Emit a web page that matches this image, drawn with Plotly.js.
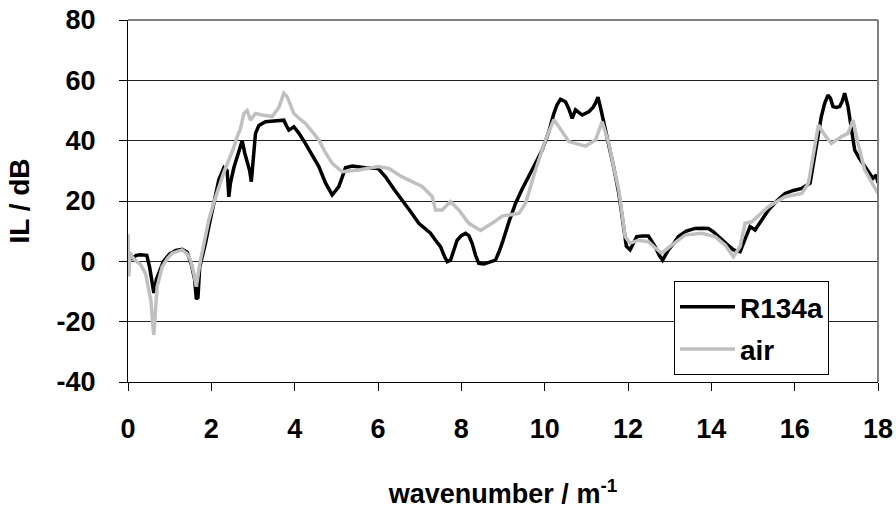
<!DOCTYPE html>
<html>
<head>
<meta charset="utf-8">
<script src="https://cdn.plot.ly/plotly-3.0.1.min.js"></script>
<style>html,body{margin:0;padding:0;background:#fff;}#chart{width:896px;height:509px;}</style>
</head>
<body>
<div id="chart"></div>
<script>
const r134aX = [0,0.05,0.1,0.2,0.3,0.45,0.52,0.58,0.62,0.68,0.74,0.85,1.0,1.15,1.3,1.42,1.52,1.6,1.64,1.68,1.72,1.78,1.86,1.94,2.06,2.18,2.3,2.38,2.42,2.46,2.54,2.64,2.74,2.8,2.86,2.92,2.96,3.0,3.06,3.14,3.3,3.5,3.74,3.8,3.86,3.98,4.1,4.26,4.42,4.58,4.74,4.9,5.06,5.22,5.38,5.7,6.0,6.18,6.38,6.58,6.78,6.98,7.14,7.26,7.38,7.5,7.6,7.66,7.74,7.82,7.9,8.0,8.1,8.18,8.26,8.34,8.42,8.54,8.7,8.82,8.9,8.98,9.14,9.3,9.46,9.62,9.78,9.94,10.1,10.22,10.3,10.38,10.5,10.58,10.66,10.74,10.9,11.06,11.16,11.22,11.28,11.34,11.38,11.46,11.54,11.66,11.78,11.9,11.96,12.05,12.21,12.35,12.49,12.65,12.75,12.83,12.97,13.1,13.21,13.4,13.61,13.8,13.93,14.05,14.17,14.35,14.53,14.69,14.8,14.93,15.05,15.2,15.37,15.57,15.77,15.97,16.17,16.37,16.46,16.56,16.64,16.72,16.8,16.86,16.92,17.0,17.08,17.14,17.2,17.28,17.36,17.44,17.56,17.68,17.88,17.96,18.0];
const r134aY = [0,2,1,2,2.2,2,-2,-8,-10.5,-6,-4,0,2.5,3.6,4,3,-1,-6,-12.5,-12,-2,1,6,11.5,20,27,31,30,21.4,26,31,36,40,36,33,30,26.4,33,42.4,45,46.3,46.5,46.8,45,43.5,44.6,42.5,39,35,31.4,26,22,24.8,31,31.6,31,30.8,28,24,20.4,16.5,12.6,10.5,9.3,7,4.9,1.5,-0.1,0.4,4,7,8.5,9.3,8.5,6,2,-0.7,-0.9,-0.3,0.4,3,6,13,19.2,24,28,32.5,36.9,43,49,52,53.7,52.9,50.5,47.4,50.2,48.5,49.6,51,52.4,54.4,51,48.5,44,39.1,31,22.5,10,5,3.8,8.2,8.4,8.4,4.9,2,0.4,3.8,6,8.2,10,10.9,11,10.9,9.8,8.2,6,3.8,3.2,7,11.5,10.4,13.5,17,20,22.5,23.5,24.2,25.9,33,42.4,48,52.4,55.1,54,51.3,51,51.3,53,55.7,51.3,44,36.9,34,31.4,27.5,28.6,26];

const airX = [0,0.02,0.05,0.1,0.2,0.3,0.42,0.5,0.55,0.6,0.62,0.66,0.7,0.82,0.95,1.06,1.3,1.42,1.5,1.58,1.64,1.7,1.74,1.84,1.94,2.06,2.18,2.3,2.42,2.52,2.62,2.7,2.78,2.86,2.94,3.0,3.06,3.22,3.46,3.62,3.74,3.82,3.9,3.98,4.1,4.26,4.42,4.58,4.74,4.9,5.14,5.54,6.0,6.26,6.58,6.8,7.06,7.3,7.38,7.54,7.74,7.94,8.18,8.46,8.74,8.98,9.38,9.54,9.66,9.78,10.02,10.22,10.34,10.58,10.98,11.22,11.38,11.54,11.66,11.78,11.93,12.05,12.25,12.49,12.65,12.81,13.05,13.37,13.77,14.09,14.33,14.53,14.69,14.81,14.97,15.37,15.77,16.17,16.33,16.49,16.57,16.72,16.88,17.12,17.28,17.4,17.52,17.68,17.92,18.0];
const airY = [9,-5,3,1.5,0,-1,-4,-10,-13,-22,-24.4,-16,-8.4,-1.8,1,2.7,3.8,2.5,0.4,-4,-8.4,-3,0.4,7,13.7,19.5,24.8,29.5,33.6,37,41.3,44,49,50,46.8,48,49,48.5,48,51,55.7,54.6,52,49,47.5,45.7,43,40.2,36,32.5,29.7,30.3,31.4,30.8,28,26.5,24.8,21.5,17,17,19.8,17,12.6,10.2,12.6,15,15.9,19.2,25,30.3,40.2,47,44.6,39.7,38.2,40.2,46.3,39.1,31,23.6,8.2,6,7,6.5,4.5,2.7,5.4,8.7,9.3,8.2,5.4,1.5,4.9,12.6,13.1,18.1,21.4,22.5,25.9,38,45.2,41.9,39.1,41.3,42.4,46.8,39.1,30.3,24.7,22.5];

const seriesNames = ["R134a", "air"];
const xTicks = [0,2,4,6,8,10,12,14,16,18];
const yTicks = [-40,-20,0,20,40,60,80];

const FONT = "'Liberation Sans', Arial, sans-serif";

const traces = [
  {x: r134aX, y: r134aY, name: seriesNames[0], legendgroup: "g1", type: "scatter", mode: "lines",
   line: {color: "#000000", width: 3.5}},
  {x: airX, y: airY, name: seriesNames[1], legendgroup: "g2", type: "scatter", mode: "lines",
   line: {color: "#c0c0c0", width: 3.5}}
];

const layout = {
  width: 896, height: 509,
  margin: {l: 128, r: 18, t: 20, b: 127, pad: 0},
  paper_bgcolor: "#ffffff", plot_bgcolor: "#ffffff",
  font: {family: FONT, color: "#000", size: 27, weight: "bold"},
  showlegend: true,
  legend: {
    x: 0.728, y: 0.279, xanchor: "left", yanchor: "top",
    bgcolor: "#ffffff", bordercolor: "#000000", borderwidth: 1,
    font: {family: FONT, size: 28, weight: "bold", color: "#000"},
    itemwidth: 55,
    entrywidth: 100,
    tracegroupgap: 3
  },
  xaxis: {
    range: [0, 18], tickmode: "array", tickvals: xTicks, ticktext: xTicks.map(String),
    showgrid: false, zeroline: false, showline: true, linecolor: "#000", linewidth: 1,
    ticks: "outside", ticklen: 8, tickcolor: "#000", tickwidth: 1,
    tickfont: {family: FONT, size: 27, weight: "bold"},
    ticklabelstandoff: 15,
    title: {text: "wavenumber / m<sup>-1</sup>", font: {family: FONT, size: 27, weight: "bold"}, standoff: 41}
  },
  yaxis: {
    range: [-40, 80], tickmode: "array", tickvals: yTicks, ticktext: yTicks.map(String),
    showgrid: true, gridcolor: "#222", gridwidth: 1, zeroline: false,
    showline: true, linecolor: "#000", linewidth: 1,
    ticks: "outside", ticklen: 8, tickcolor: "#000", tickwidth: 1,
    tickfont: {family: FONT, size: 27, weight: "bold"},
    ticklabelstandoff: 18,
    title: {text: "IL / dB", font: {family: FONT, size: 28, weight: "bold"}, standoff: 18}
  },
  shapes: [
    {type: "line", xref: "paper", yref: "paper", x0: 0, x1: 1, y0: 1, y1: 1, line: {color: "#808080", width: 2}},
    {type: "line", xref: "paper", yref: "paper", x0: 1, x1: 1, y0: 0, y1: 1, line: {color: "#808080", width: 2}}
  ]
};

Plotly.newPlot("chart", traces, layout, {displayModeBar: false, staticPlot: true});
</script>
</body>
</html>
